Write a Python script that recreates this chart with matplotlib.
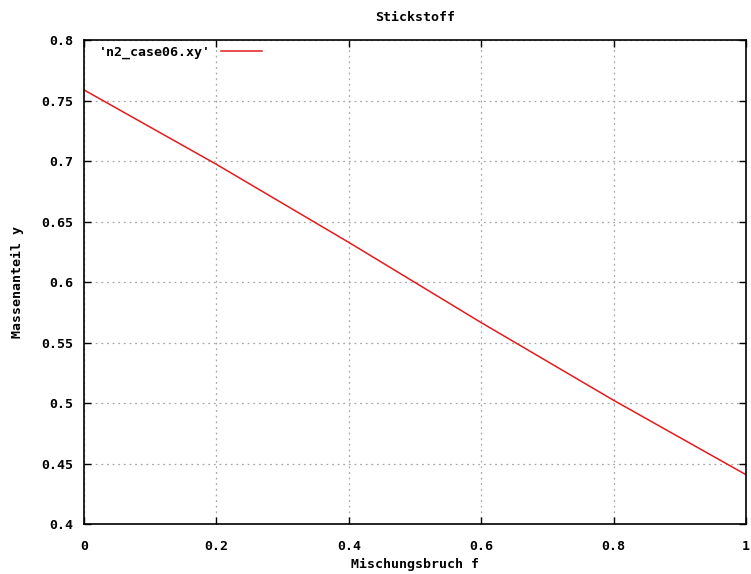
import matplotlib
matplotlib.use("Agg")
import matplotlib.pyplot as plt
from matplotlib.ticker import FixedLocator, FixedFormatter

# Data
f_values = [0.0, 0.2, 0.4, 0.6, 0.8, 1.0]
y_values = [0.759, 0.6975, 0.633, 0.5667, 0.5025, 0.441]
x_ticks = [0, 0.2, 0.4, 0.6, 0.8, 1]
x_labels = ["0", "0.2", "0.4", "0.6", "0.8", "1"]
y_ticks = [0.4, 0.45, 0.5, 0.55, 0.6, 0.65, 0.7, 0.75, 0.8]
y_labels = ["0.4", "0.45", "0.5", "0.55", "0.6", "0.65", "0.7", "0.75", "0.8"]
series_name = "'n2_case06.xy'"

plt.rcParams['font.family'] = ['DejaVu Sans Mono']
plt.rcParams['font.weight'] = 'bold'
FS = 9.5

fig = plt.figure(figsize=(7.51, 5.74), dpi=100)
ax = fig.add_axes([84/751, 1 - 524.3/574, (746 - 84)/751, (524.3 - 40.3)/574])

ax.plot(f_values, y_values, color='#e41a1c', lw=1.1, label=series_name)

ax.set_xlim(0, 1)
ax.set_ylim(0.4, 0.8)
ax.xaxis.set_major_locator(FixedLocator(x_ticks))
ax.xaxis.set_major_formatter(FixedFormatter(x_labels))
ax.yaxis.set_major_locator(FixedLocator(y_ticks))
ax.yaxis.set_major_formatter(FixedFormatter(y_labels))

ax.grid(True, color='#a8a8a8', linestyle=(0, (1.5, 3)), linewidth=0.9)
ax.tick_params(direction='in', length=5, width=1, top=True, right=True,
               labelsize=FS)
ax.tick_params(axis='x', pad=11)
ax.tick_params(axis='y', pad=8)
for lab in ax.get_xticklabels() + ax.get_yticklabels():
    lab.set_fontweight('bold')
for s in ax.spines.values():
    s.set_linewidth(1.2)

ax.set_title("Stickstoff", fontsize=FS, fontweight='bold', pad=14)
ax.set_xlabel("Mischungsbruch f", fontsize=FS, fontweight='bold', labelpad=4)
ax.set_ylabel("Massenanteil y", fontsize=FS, fontweight='bold', labelpad=12)

leg = ax.legend(loc='upper left', bbox_to_anchor=(0.022, 0.988),
                frameon=False, markerfirst=False,
                handlelength=3.1, handletextpad=0.8, fontsize=FS,
                borderaxespad=0.0, borderpad=0.0)
for t in leg.get_texts():
    t.set_fontweight('bold')

fig.savefig("out.png", dpi=100)
